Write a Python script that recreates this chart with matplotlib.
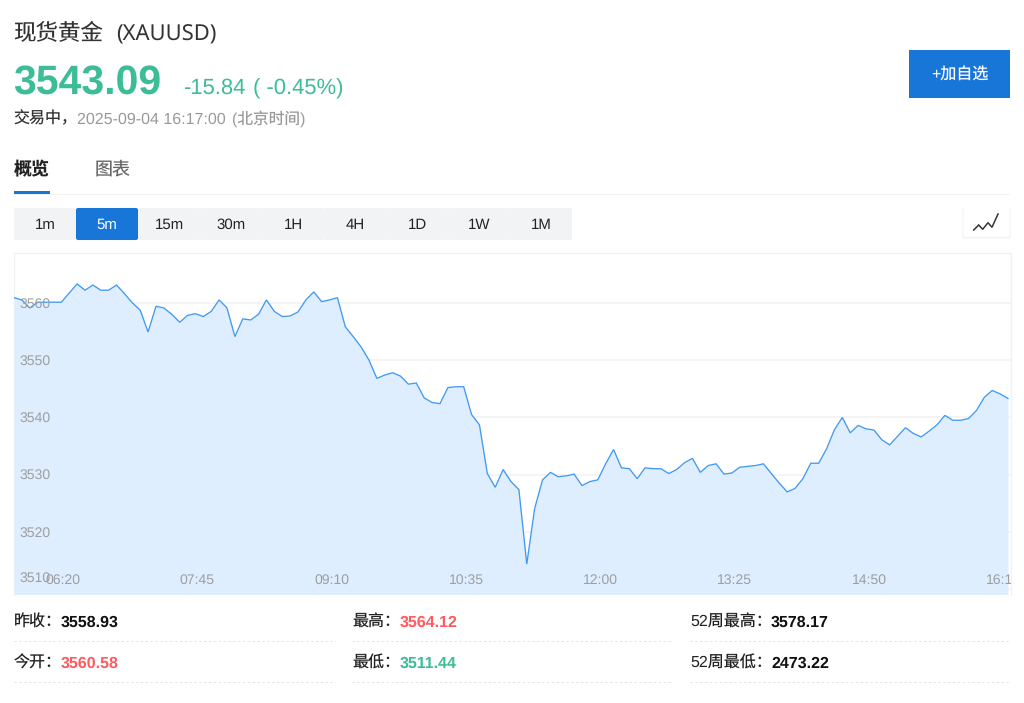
import matplotlib
matplotlib.use("Agg")
import matplotlib.pyplot as plt
from matplotlib.patches import Rectangle, FancyBboxPatch
from matplotlib import transforms

plt.rcParams["text.hinting"] = "no_hinting"
plt.rcParams["text.hinting_factor"] = 1

# ---------- data ----------
prices = [
    3560.9, 3560.5, 3559.1, 3560.1, 3560.1, 3560.1, 3560.1, 3561.7, 3563.3, 3562.2,
    3563.1, 3562.2, 3562.2, 3563.1, 3561.6, 3560.0, 3558.7, 3554.9, 3559.4, 3559.1,
    3558.0, 3556.6, 3557.8, 3558.1, 3557.6, 3558.5, 3560.5, 3559.1, 3554.1, 3557.2,
    3557.0, 3558.0, 3560.5, 3558.5, 3557.6, 3557.7, 3558.4, 3560.5, 3561.9, 3560.2,
    3560.5, 3560.9, 3555.8, 3554.1, 3552.3, 3550.0, 3546.8, 3547.4, 3547.8, 3547.2,
    3545.8, 3546.0, 3543.4, 3542.6, 3542.4, 3545.2, 3545.35, 3545.35, 3540.5, 3538.7,
    3530.2, 3527.8, 3530.9, 3528.8, 3527.4, 3514.4, 3524.1, 3529.1, 3530.4, 3529.65,
    3529.8, 3530.1, 3528.1, 3528.8, 3529.1, 3531.9, 3534.4, 3531.2, 3531.05, 3529.3,
    3531.2, 3531.05, 3531.05, 3530.2, 3530.9, 3532.1, 3532.85, 3530.4, 3531.6, 3531.9,
    3530.1, 3530.3, 3531.3, 3531.45, 3531.6, 3531.9, 3530.2, 3528.55, 3527.0, 3527.6,
    3529.3, 3532.0, 3532.0, 3534.5, 3537.85, 3540.0, 3537.3, 3538.6, 3538.0, 3537.8,
    3536.1, 3535.2, 3536.7, 3538.2, 3537.2, 3536.6, 3537.6, 3538.7, 3540.35, 3539.5,
    3539.5, 3539.8, 3541.2, 3543.5, 3544.7, 3544.1, 3543.3,
]
x_index = list(range(len(prices)))
y_ticks = [3510, 3520, 3530, 3540, 3550, 3560]
x_tick_index = [6.2, 23.23, 40.26, 57.29, 74.32, 91.35, 108.38, 125.41]
x_tick_labels = ["06:20", "07:45", "09:10", "10:35", "12:00", "13:25", "14:50", "16:15"]
intervals = ["1m", "5m", "15m", "30m", "1H", "4H", "1D", "1W", "1M"]
active_interval = "5m"
stats = [
    ("昨收：", "3558.93", "black", 14, 61, 627),
    ("今开：", "3560.58", "red", 14, 61, 667.5),
    ("最高：", "3564.12", "red", 352, 399.5, 627),
    ("最低：", "3511.44", "green", 352, 399.5, 667.5),
    ("52周最高：", "3578.17", "black", 690, 771, 627),
    ("52周最低：", "2473.22", "black", 690, 771, 667.5),
]

# ---------- style ----------
GREEN = "#3DBD96"
RED = "#FF5A5F"
BLUE = "#1976D9"
LINE = "#4199F2"
FILL = "#DEEEFF"
GRID = "#F2F2F2"
AXTXT = "#9E9E9E"
SANS = ["Liberation Sans", "Noto Sans CJK SC"]
CJK = ["Noto Sans CJK SC", "DejaVu Sans"]
W, H = 1024, 703


def pt(px):
    return px * 0.72


fig = plt.figure(figsize=(W / 100, H / 100), dpi=100, facecolor="white")

# page layer in pixel coordinates
ui = fig.add_axes([0, 0, 1, 1], zorder=1)
ui.set_xlim(0, W)
ui.set_ylim(H, 0)
ui.axis("off")


def txt(x, y, s, px, color="#222222", family=SANS, weight="normal", ha="left"):
    ui.text(x, y, s, fontsize=pt(px), color=color, family=family, weight=weight,
            ha=ha, va="baseline")


# header
txt(13, 40.5, "现货黄金", 22.5, "#333333", CJK)
txt(116, 41, "(XAUUSD)", 22, "#333333", ["Noto Sans", "DejaVu Sans"])
txt(13.5, 95, "3543.09", 40.8, GREEN, weight="bold")
txt(183, 94, "-15.84", 22.4, GREEN)
txt(253, 94, "( -0.45%)", 22.4, GREEN)
txt(13.5, 123, "交易中，", 16, "#333333", CJK)
txt(77, 124, "2025-09-04 16:17:00", 15.6, "#999999")
txt(232, 124, "(北京时间)", 15.7, "#999999", SANS)

# add-to-watchlist button
ui.add_patch(Rectangle((909, 50), 101, 48, fc=BLUE, ec="none"))
txt(959.5, 80, "+加自选", 16, "white", SANS, ha="center")

# tabs
txt(13.5, 175, "概览", 18, "#222222", CJK, weight="bold")
txt(95, 174.5, "图表", 18, "#666666", CJK)
ui.add_patch(Rectangle((14, 194), 996, 1.2, fc="#F2F2F2", ec="none"))
ui.add_patch(Rectangle((14, 191), 36, 3, fc=BLUE, ec="none"))

# interval buttons
for i, name in enumerate(intervals):
    left = 14 + 62 * i
    is_on = name == active_interval
    ui.add_patch(FancyBboxPatch((left + 1, 209), 60, 30,
                                boxstyle="round,pad=1,rounding_size=2",
                                fc=BLUE if is_on else "#F2F3F5", ec="none"))
    txt(left + 31, 229.3, name, 15, "white" if is_on else "#222222", ha="center")

# chart-type icon
ui.add_patch(FancyBboxPatch((963, 209), 47, 29, boxstyle="round,pad=1,rounding_size=2",
                            fc="#EEF0F3", ec="none", alpha=0.6))
ui.add_patch(FancyBboxPatch((964, 208.5), 45, 27.5, boxstyle="round,pad=0.5,rounding_size=2",
                            fc="white", ec="none"))
ui.plot([973.7, 978.7, 982.7, 988, 992, 998], [230, 225, 229.3, 222.7, 227.3, 214],
        color="#333333", lw=1.1, solid_joinstyle="miter")

# statistics
for label, value, tone, xl, xv, base in stats:
    color = {"black": "#111111", "red": RED, "green": GREEN}[tone]
    txt(xl, base, label, 16, "#222222", SANS)
    txt(xv, base, value, 15.8, color, weight="bold")
for xa, xb in [(14, 336), (352, 673), (690, 1011)]:
    for yy in (641, 682):
        ui.plot([xa, xb], [yy, yy], color="#E4E4E4", lw=0.7, dashes=(2.5, 2.5))

# ---------- chart ----------
left, right, top, bottom = 14, 1011, 253.5, 594.5
ax = fig.add_axes([left / W, 1 - bottom / H, (right - left) / W, (bottom - top) / H], zorder=2)
ax.set_facecolor("white")
px_per_index = 994 / 126
px_per_unit = 5.73
ax.set_xlim(0, (right - left) / px_per_index)
ax.set_ylim(3510 - (bottom - 589.3) / px_per_unit, 3510 + (589.3 - top) / px_per_unit)
ax.set_xticks(x_tick_index)
ax.set_yticks(y_ticks)
ax.set_xticklabels([])
ax.set_yticklabels([])
ax.tick_params(length=0)
ax.set_axisbelow(True)
ax.grid(axis="y", color=GRID, lw=1.2)
ax.grid(axis="x", visible=False)
for sp in ax.spines.values():
    sp.set_color("#F2F2F2")
    sp.set_linewidth(1)
    sp.set_zorder(1)
ax.spines["bottom"].set_visible(False)

ax.fill_between(x_index, prices, ax.get_ylim()[0], color=FILL, lw=0, zorder=2)
ax.plot(x_index, prices, color=LINE, lw=0.95, zorder=3, solid_joinstyle="miter")

for v in y_ticks:
    dy = 7 if v == y_ticks[0] else -4.6
    tr = transforms.offset_copy(ax.get_yaxis_transform(), fig=fig, x=5.5, y=dy, units="dots")
    ax.text(0, v, str(v), transform=tr, fontsize=pt(14.3), color=AXTXT, family=SANS,
            ha="left", va="baseline", zorder=5, clip_on=False)

base_frac = (bottom - 583.7) / (bottom - top)
for xt, lab in zip(x_tick_index, x_tick_labels):
    ax.text(xt, base_frac, lab, transform=ax.get_xaxis_transform(), fontsize=pt(14.3),
            color=AXTXT, family=SANS, ha="center", va="baseline", zorder=5, clip_on=True)

fig.savefig("out.png", dpi=100, facecolor="white")
